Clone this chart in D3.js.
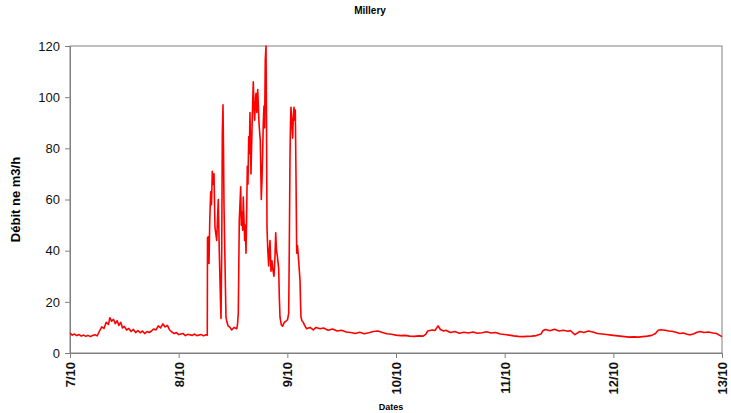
<!DOCTYPE html>
<html>
<head>
<meta charset="utf-8">
<script src="https://cdn.jsdelivr.net/npm/d3@7"></script>
<style>
    body { margin: 0; background: #fff; }
    svg { display: block; font-family: "Liberation Sans", Arial, sans-serif; }
    .axis path, .axis line { stroke: #808080; }
    .axis text { fill: #111; }
</style>
</head>
<body>
<div id="chart-area"></div>
<script>

// Chart texts
var chartTitle = "Millery";
var yTitle = "Débit ne m3/h";
var xTitle = "Dates";

// Day ticks on the time axis (day/month)
var tickDays = ["2010-10-07", "2010-10-08", "2010-10-09", "2010-10-10", "2010-10-11", "2010-10-12", "2010-10-13"];
var yTicks = [0, 20, 40, 60, 80, 100, 120];

// Flow readings, [hours since 7/10 00:00, m3/h]
var day7 = [
    [0, 7.8], [0.5, 7.0], [1, 7.4], [1.5, 6.8], [2, 7.2], [2.5, 6.6], [3, 7.0], [3.5, 6.5],
    [4, 6.9], [4.5, 6.4], [5, 6.8], [5.5, 7.1], [6, 6.7], [6.5, 8.5], [7, 10.2], [7.5, 9.6],
    [8, 12.0], [8.5, 11.2], [8.8, 13.8], [9.2, 12.4], [9.6, 13.2], [10, 11.5], [10.4, 12.6],
    [10.8, 10.8], [11.2, 12.0], [11.6, 9.8], [12, 10.4], [12.5, 9.0], [13, 9.6], [13.5, 8.4],
    [14, 9.2], [14.5, 8.0], [15, 8.8], [15.5, 7.9], [16, 8.6], [16.5, 7.6], [17, 8.4], [17.5, 8.0],
    [18, 8.6], [18.5, 9.4], [19, 9.0], [19.5, 10.6], [20, 9.8], [20.5, 11.4], [21, 10.2],
    [21.5, 10.8], [22, 9.0], [22.5, 8.2], [23, 7.6], [23.5, 8.0], [24, 7.2]
];

var day8 = [
    [25, 7.6], [25.5, 6.8], [26, 7.3], [27, 6.9], [27.5, 7.4], [28, 6.8], [29, 7.2], [29.5, 6.7],
    [30, 7.1], [30.32, 7.0], [30.37, 45], [30.54, 45.5], [30.70, 35], [30.87, 52], [31.07, 63],
    [31.25, 58], [31.43, 71], [31.63, 66], [31.80, 70], [32.02, 49], [32.40, 44], [32.57, 52],
    [32.75, 60], [32.97, 40], [33.17, 25], [33.35, 13.5], [33.51, 40], [33.64, 86], [33.79, 97],
    [33.90, 80], [34.01, 58], [34.30, 28.5], [34.45, 14], [34.67, 12], [34.96, 10.5], [35.34, 10],
    [35.71, 9], [36.22, 10], [36.82, 9.5], [36.99, 11], [37.17, 15.6], [37.39, 52], [37.54, 58],
    [37.70, 65], [37.83, 50], [37.98, 55], [38.14, 48], [38.27, 61], [38.43, 52], [38.58, 44],
    [38.71, 50], [38.87, 39], [39.02, 55], [39.16, 73], [39.31, 66], [39.47, 84.5], [39.60, 78],
    [39.75, 94], [39.86, 82], [39.97, 70], [40.19, 87], [40.35, 98], [40.48, 106], [40.64, 96],
    [40.79, 91], [40.93, 98], [41.08, 101.5], [41.26, 94], [41.46, 103], [41.59, 97], [41.74, 90],
    [41.90, 86], [42.03, 83], [42.25, 60], [42.41, 68], [42.56, 79], [42.69, 90], [42.84, 96.5],
    [42.98, 88], [43.13, 114.5], [43.29, 120], [43.40, 90], [43.51, 49], [43.69, 40], [43.88, 34],
    [44.02, 40], [44.17, 44], [44.39, 32], [44.61, 36], [44.77, 33], [45.05, 30], [45.28, 38],
    [45.43, 47], [45.61, 40], [45.79, 38], [46.09, 33], [46.23, 22], [46.38, 14], [46.67, 11],
    [46.97, 10.5], [47.33, 12], [47.70, 12.5], [48.04, 13]
];

var day9 = [
    [48.30, 15.5], [48.43, 40], [48.59, 76.7], [48.70, 90], [48.81, 96], [48.98, 90], [49.18, 84],
    [49.31, 92], [49.47, 96], [49.62, 91], [49.76, 95], [49.91, 70], [50.07, 39], [50.24, 42],
    [50.42, 38], [50.62, 33], [50.80, 28.5], [50.91, 20], [51.02, 14], [51.24, 12.5], [51.52, 12],
    [51.90, 10.5], [52.27, 9.5], [53.0, 10], [53.73, 9], [54.33, 10], [55.21, 9.5], [56, 9.8],
    [57, 8.9], [58, 9.4], [59, 8.6], [60, 8.9], [61, 8.2], [62, 8.0], [63, 7.6], [64, 8.1],
    [65, 7.5], [66, 7.9], [67, 8.4], [68, 8.6], [69, 8.0], [70, 7.5], [71, 7.3], [72, 7.0]
];

var day10 = [
    [73, 6.8], [74, 6.9], [75, 6.6], [76, 6.5], [77, 6.7], [78, 6.6], [78.6, 7.4], [79, 8.6],
    [80, 9.0], [80.6, 8.8], [81.3, 10.6], [81.8, 9.2], [82.5, 8.6], [83, 8.9], [84, 8.0],
    [85, 8.4], [86, 7.7], [87, 8.1], [88, 7.8], [89, 8.2], [90, 7.7], [91, 7.9], [92, 8.3],
    [93, 7.8], [94, 8.0], [95, 7.4], [96, 7.2]
];

var day11 = [
    [97, 7.0], [98, 6.7], [99, 6.5], [100, 6.4], [101, 6.5], [102, 6.6], [103, 6.8], [104, 7.4],
    [104.5, 8.8], [105, 9.2], [106, 8.7], [107, 9.3], [108, 8.6], [109, 8.9], [110, 8.5],
    [110.5, 8.8], [111.5, 7.2], [112.6, 8.4], [113.5, 8.0], [114.5, 8.6], [115.5, 8.2],
    [116.5, 7.6], [117.5, 7.4], [118.5, 7.2], [119.5, 7.0]
];

var day12 = [
    [120.5, 6.8], [121.5, 6.6], [122.5, 6.4], [123.5, 6.2], [124.5, 6.3], [125.5, 6.2],
    [126.5, 6.4], [127.5, 6.6], [128.5, 6.9], [129.3, 7.6], [129.9, 8.9], [130.5, 9.1],
    [131.4, 8.9], [132.3, 8.6], [133.2, 8.4], [134, 8.0], [134.7, 7.6], [135.5, 7.8],
    [136.3, 7.3], [137, 7.1], [137.8, 7.5], [138.5, 8.1], [139.2, 8.4], [140, 8.0], [141, 8.2],
    [142, 7.8], [142.8, 7.6], [143.5, 6.9], [144, 6.4]
];


var margin = { top: 46, right: 9, bottom: 60, left: 70 };
var width = 731 - margin.left - margin.right,
    height = 413 - margin.top - margin.bottom;

var parseDay = d3.timeParse("%Y-%m-%d");
var days = tickDays.map(parseDay);
var start = days[0];

// Turn hour offsets into dates
var series = [].concat(day7, day8, day9, day10, day11, day12).map(function(d) {
    return { time: new Date(start.getTime() + d[0] * 3600 * 1000), flow: d[1] };
});

// SVG drawing area
var svg = d3.select("#chart-area").append("svg")
    .attr("width", 731)
    .attr("height", 413);

var g = svg.append("g")
    .attr("transform", "translate(" + margin.left + "," + margin.top + ")");

// Scales and axes
var x = d3.scaleTime()
    .domain([days[0], days[days.length - 1]])
    .range([0, width]);

var y = d3.scaleLinear()
    .domain([0, 120])
    .range([height, 0]);

var xAxis = d3.axisBottom(x)
    .tickValues(days)
    .tickFormat(d3.timeFormat("%-d/%m"))
    .tickSize(5)
    .tickSizeOuter(0);

var yAxis = d3.axisLeft(y)
    .tickValues(yTicks)
    .tickSize(5)
    .tickSizeOuter(0);

// Plot frame (top and right edges)
g.append("rect")
    .attr("width", width)
    .attr("height", height)
    .attr("fill", "none")
    .attr("stroke", "#808080")
    .attr("stroke-width", 1);

g.append("g")
    .attr("class", "y-axis axis")
    .call(yAxis)
    .selectAll("text")
    .attr("x", -10)
    .style("font-size", "13px");

g.append("g")
    .attr("class", "x-axis axis")
    .attr("transform", "translate(0," + height + ")")
    .call(xAxis)
    .selectAll("text")
    .attr("transform", "rotate(-90)")
    .attr("text-anchor", "end")
    .attr("x", -9)
    .attr("y", 0)
    .attr("dy", "0.35em")
    .style("font-size", "13px")
    .style("font-weight", "bold");

// Flow line
var line = d3.line()
    .x(function(d) { return x(d.time); })
    .y(function(d) { return y(d.flow); });

g.append("path")
    .datum(series)
    .attr("fill", "none")
    .attr("stroke", "#ff0000")
    .attr("stroke-width", 1.6)
    .attr("stroke-linejoin", "round")
    .attr("d", line);

// Titles
svg.append("text")
    .attr("x", 370)
    .attr("y", 14)
    .attr("text-anchor", "middle")
    .style("font-size", "10px")
    .style("font-weight", "bold")
    .text(chartTitle);

svg.append("text")
    .attr("transform", "translate(20," + (margin.top + height / 2) + ") rotate(-90)")
    .attr("text-anchor", "middle")
    .style("font-size", "13px")
    .style("font-weight", "bold")
    .text(yTitle);

svg.append("text")
    .attr("x", 391)
    .attr("y", 410)
    .attr("text-anchor", "middle")
    .style("font-size", "9px")
    .style("font-weight", "bold")
    .text(xTitle);

</script>
</body>
</html>
